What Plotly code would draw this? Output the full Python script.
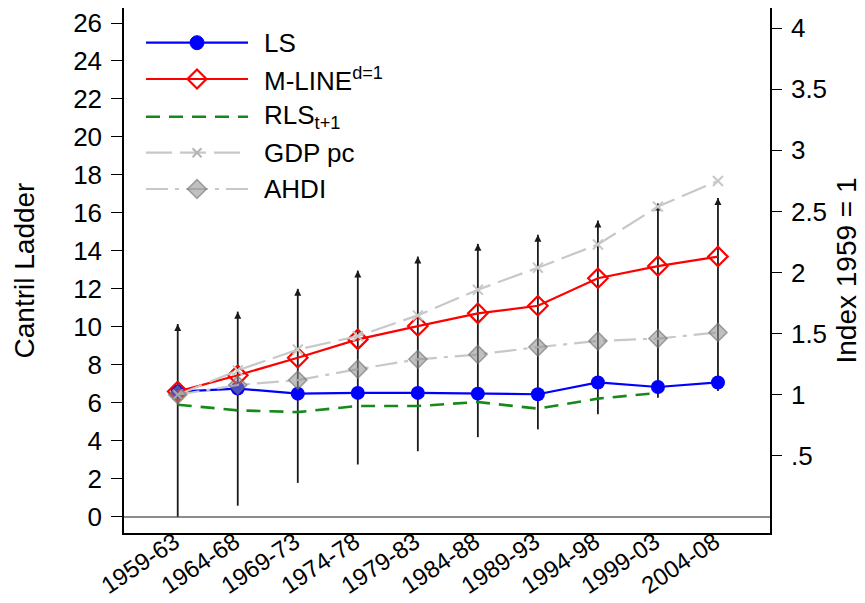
import plotly.graph_objects as go

# ---------------- data ----------------
periods = ["1959-63", "1964-68", "1969-73", "1974-78", "1979-83",
           "1984-88", "1989-93", "1994-98", "1999-03", "2004-08"]
ls = [6.59, 6.75, 6.48, 6.52, 6.52, 6.48, 6.45, 7.07, 6.83, 7.07]
mline = [6.59, 7.45, 8.37, 9.34, 10.04, 10.71, 11.11, 12.56, 13.20, 13.70]
rls_t1 = [5.90, 5.60, 5.51, 5.83, 5.83, 6.04, 5.69, 6.22, 6.52, None]
gdp_index = [1.00, 1.20, 1.37, 1.48, 1.65, 1.86, 2.04, 2.23, 2.54, 2.75]
ahdi_index = [1.00, 1.08, 1.12, 1.21, 1.29, 1.33, 1.39, 1.44, 1.46, 1.51]
range_low = [0.00, 0.58, 1.78, 2.75, 3.45, 4.19, 4.60, 5.39, 6.27, 6.62]
range_high = [10.15, 10.80, 12.00, 12.96, 13.70, 14.37, 14.85, 15.60, 16.49, 16.79]
left_ticks = list(range(0, 27, 2))
right_ticks = [0.5, 1, 1.5, 2, 2.5, 3, 3.5, 4]
right_ticklabels = [".5", "1", "1.5", "2", "2.5", "3", "3.5", "4"]
legend_labels = ["LS", "M-LINE<sup>d=1</sup>", "RLS<sub>t+1</sub>", "GDP pc", "AHDI"]

# ---------------- styling ----------------
FONT = "Liberation Sans, Arial, Helvetica, sans-serif"
BLUE = "#0000ff"
RED = "#ff0000"
GREEN = "#16891b"
LGRAY = "#c8c8c8"
AHDI_FILL = "rgba(140,140,140,0.55)"
AHDI_LINE = "rgba(110,110,110,0.6)"
Y_RANGE = [-0.858, 26.79]
Y2_RANGE = [-0.131, 4.165]
TICK_FS = 26
TITLE_FS = 28
LEG_FS = 26

fig = go.Figure()

# vertical range arrows
ax, ay = [], []
for p, lo, hi in zip(periods, range_low, range_high):
    ax += [p, p, None]
    ay += [lo, hi, None]
fig.add_trace(go.Scatter(x=ax, y=ay, mode="lines",
                         line=dict(color="#1a1a1a", width=1.8),
                         showlegend=False, hoverinfo="skip"))
fig.add_trace(go.Scatter(x=periods, y=range_high, mode="markers",
                         marker=dict(symbol="arrow-up", size=7, color="#1a1a1a",
                                     line=dict(width=0)),
                         showlegend=False, hoverinfo="skip"))

# LS
fig.add_trace(go.Scatter(x=periods, y=ls, mode="lines+markers", name="LS",
                         line=dict(color=BLUE, width=2.2),
                         marker=dict(symbol="circle", size=14, color=BLUE),
                         showlegend=False))
# RLS t+1
fig.add_trace(go.Scatter(x=periods, y=rls_t1, mode="lines", name="RLS",
                         line=dict(color=GREEN, width=2.6, dash="14px,9px"),
                         showlegend=False))
# GDP pc (index, right axis)
fig.add_trace(go.Scatter(x=periods, y=gdp_index, mode="lines+markers", name="GDP pc",
                         yaxis="y2",
                         line=dict(color=LGRAY, width=2.2, dash="26px,8px"),
                         marker=dict(symbol="x-thin-open", size=10,
                                     line=dict(color="#b4b4b4", width=2)),
                         showlegend=False))
# AHDI (index, right axis)
fig.add_trace(go.Scatter(x=periods, y=ahdi_index, mode="lines+markers", name="AHDI",
                         yaxis="y2",
                         line=dict(color=LGRAY, width=2.2, dash="22px,7px,4px,7px"),
                         marker=dict(symbol="diamond", size=14, color=AHDI_FILL,
                                     line=dict(color=AHDI_LINE, width=1.5)),
                         showlegend=False))
# M-LINE
fig.add_trace(go.Scatter(x=periods, y=mline, mode="lines+markers", name="M-LINE",
                         line=dict(color=RED, width=2.2),
                         marker=dict(symbol="diamond-open", size=15,
                                     line=dict(color=RED, width=2.2)),
                         showlegend=False))

# ---------------- custom legend (layout shapes + text) ----------------
# plot-area edges in page pixels (the page body adds an 8px offset)
OFF = 8
PL, PR, PT, PB = 124, 770, 8, 533
FIG_W, FIG_H = 865 - OFF, 603 - OFF


def fx(px):
    return (px - PL) / (PR - PL)


def fy(py):
    return (PB - py) / (PB - PT)


rows = [42.7, 79, 116.7, 152.7, 189]
LX0, LX1, MX, TX = 146, 248, 197, 262
line_styles = [
    dict(color=BLUE, width=2.2),
    dict(color=RED, width=2.2),
    dict(color=GREEN, width=2.6, dash="14px,9px"),
    dict(color=LGRAY, width=2.2, dash="26px,8px"),
    dict(color=LGRAY, width=2.2, dash="22px,7px,4px,7px"),
]
shapes = []
for yy, st in zip(rows, line_styles):
    shapes.append(dict(type="line", xref="paper", yref="paper",
                       x0=fx(LX0), x1=fx(LX1), y0=fy(yy), y1=fy(yy), line=st))


def diamond_path(cx, cy, hw, hh):
    return (f"M{fx(cx - hw)},{fy(cy)} L{fx(cx)},{fy(cy - hh)} "
            f"L{fx(cx + hw)},{fy(cy)} L{fx(cx)},{fy(cy + hh)} Z")


shapes.append(dict(type="circle", xref="paper", yref="paper",
                   x0=fx(MX - 7), x1=fx(MX + 7), y0=fy(rows[0] + 7), y1=fy(rows[0] - 7),
                   fillcolor=BLUE, line=dict(color=BLUE, width=1)))
shapes.append(dict(type="path", xref="paper", yref="paper",
                   path=diamond_path(MX, rows[1], 9.5, 9.5),
                   line=dict(color=RED, width=2.2)))
for s in (-1, 1):
    shapes.append(dict(type="line", xref="paper", yref="paper",
                       x0=fx(MX - 4.5), x1=fx(MX + 4.5),
                       y0=fy(rows[3] - 4.5 * s), y1=fy(rows[3] + 4.5 * s),
                       line=dict(color="#b4b4b4", width=2)))
shapes.append(dict(type="path", xref="paper", yref="paper",
                   path=diamond_path(MX, rows[4], 9.5, 9.5),
                   fillcolor=AHDI_FILL, line=dict(color=AHDI_LINE, width=1.5)))

annotations = []
for yy, lab in zip(rows, legend_labels):
    annotations.append(dict(xref="paper", yref="paper", x=fx(TX), y=fy(yy),
                            text=lab, showarrow=False, xanchor="left", yanchor="middle",
                            font=dict(family=FONT, size=LEG_FS, color="black")))

fig.update_layout(
    width=FIG_W, height=FIG_H,
    margin=dict(l=PL - OFF, r=FIG_W - (PR - OFF), t=PT - OFF, b=FIG_H - (PB - OFF), pad=0),
    paper_bgcolor="white", plot_bgcolor="white",
    font=dict(family=FONT, size=TICK_FS, color="black"),
    showlegend=False,
    shapes=shapes,
    annotations=annotations,
    xaxis=dict(type="category", range=[-0.895, 9.867], tickangle=-34,
               showline=True, linecolor="black", linewidth=1.5, mirror=True,
               ticks="", showgrid=False, zeroline=False, automargin=False,
               ticklabelstandoff=-16, ticklabelshift=-3,
               tickfont=dict(size=24)),
    yaxis=dict(range=Y_RANGE, tickvals=left_ticks, ticks="outside", ticklen=11,
               tickwidth=1.3, tickcolor="black", showline=True, linecolor="black",
               linewidth=1.5, showgrid=False, zeroline=True, zerolinecolor="#8c8c8c",
               zerolinewidth=2.2, tickfont=dict(size=TICK_FS), ticklabelstandoff=4,
               automargin=False,
               title=dict(text="Cantril Ladder", font=dict(size=TITLE_FS), standoff=30)),
    yaxis2=dict(overlaying="y", side="right", range=Y2_RANGE,
                tickvals=right_ticks, ticktext=right_ticklabels, ticks="outside",
                ticklen=10, tickwidth=1.3, tickcolor="black", showline=True,
                linecolor="black", linewidth=1.5, showgrid=False, zeroline=False,
                tickfont=dict(size=TICK_FS), ticklabelstandoff=4, automargin=False,
                title=dict(text="Index 1959 = 1", font=dict(size=TITLE_FS), standoff=10)),
)

fig.write_html("out.html")
